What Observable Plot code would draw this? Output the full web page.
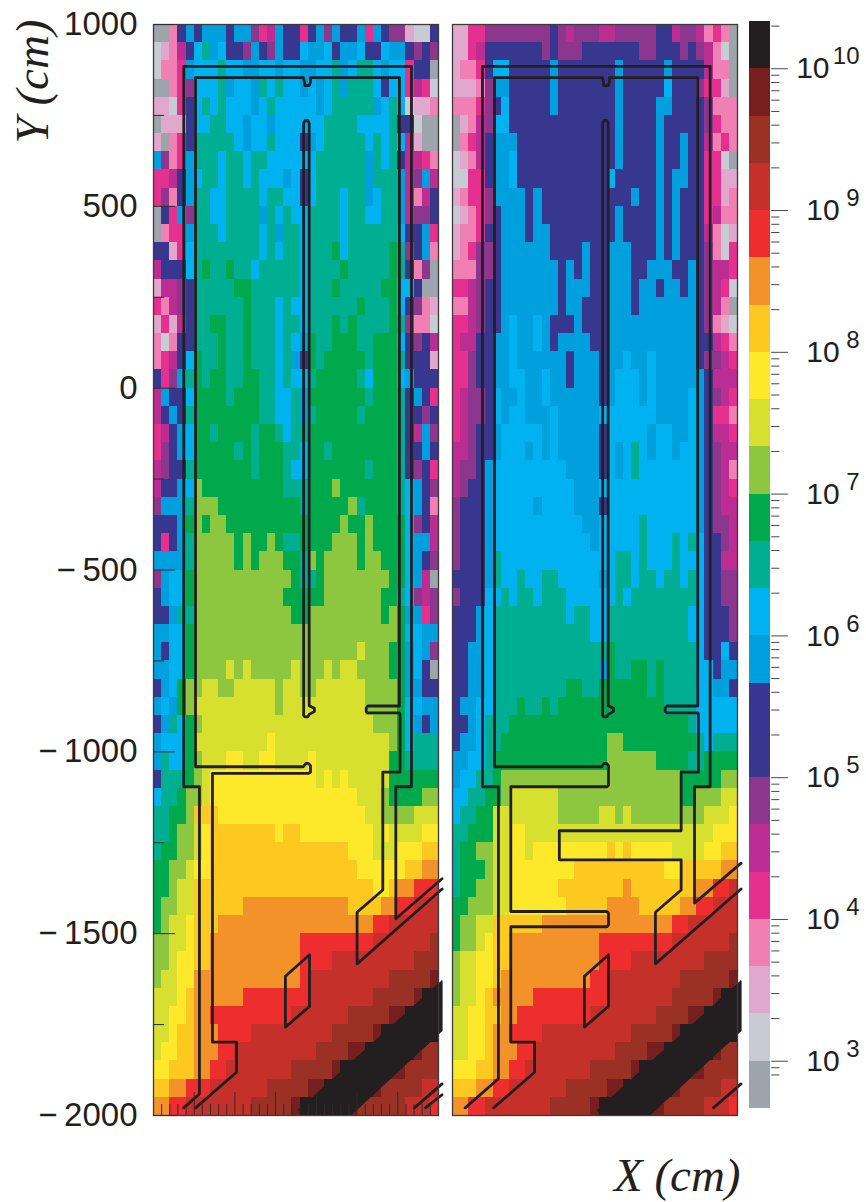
<!DOCTYPE html>
<html>
<head>
<meta charset="utf-8">
<script src="https://cdn.jsdelivr.net/npm/d3@7"></script>
<script src="https://cdn.jsdelivr.net/npm/@observablehq/plot@0.6"></script>
<style>
html,body{margin:0;padding:0;background:#fff}
#chart{position:relative;width:866px;height:1202px;overflow:hidden}
#chart svg{position:absolute;top:0;background:transparent;max-width:none;height:1202px;overflow:visible}
</style>
</head>
<body>
<div id="chart"></div>
<script>
// Colour levels, lowest to highest; each level spans a third of a decade.
const levelColors = ["#9ea4ab","#c8cbd3","#e1a8cd","#f080b4","#e5308f","#bb2d92","#8c368e","#37378f","#373792","#00a0df","#00b2ef","#00ae91","#00a94c","#8dc63f","#d7df2f","#fde82a","#fdc921","#f29229","#ee2d2e","#c6302b","#9b3125","#771f1f","#231f20"];
const levelKeys = "abcdefghijklmnopqrstuvw";
const lowestLogValue = 8 / 3;
const levelStep = 1 / 3;

// Each row: 35 bins of 25 cm; first row is the top one (1000 to 950 cm).
const leftRows = [
"aadhj hjjjh jjgef jhheh jgjhh jejhg gcbbh",
"bcdfh kljkh hgjhg jhhkj jkhjj khhkj jhghg",
"bddej kkklk kjjkk jkkjj kkljk llkjk kehha",
"aadeg kkklj kkjlk lkkjk jkljl llkhk kefeb",
"ccbeh klklk kkjkl kkkkk jklll lljkl kbccd",
"accch kkllk kjkkj kkkkk kllll kkkkl hhbaa",
"cadeh lllll kjkkl kkkhj kllll lklkl kfcaa",
"jgdej lllkl lkllk kkkkk lllll ljlkl hffed",
"eefhj kllkl lklkk kjkhk lllll ljlll jfgjf",
"egdhj llkkl lllkl lkkhk lllkl ljkll jfdfh",
"ahejg llkkl llljl klkkl lllkl lkkll jfggh",
"adeej lllkl lllkl jllkl lllkl lllll khhje",
"hhcek lllll lllkl kllkl llmkl llllm lghjd",
"fhhhk lmllm llkll lllkl lllml llllm lhdga",
"cffgh lllll mmlll lllkl llmll lllmm kkhaa",
"edfgh lllll lmlll klkkl lllll mlllm khgdc",
"cecfh llmml lmlll kllkl llmlm llllm lgddb",
"dbdhh lllml lmlll klkjm llmmm llmmm khghf",
"defhk mllml lmlll kljhm lmmmm mlmmm lhhhc",
"hegjl mlmml lmmll klkkl mmmmm lkmmm kjhhh",
"fjhhk mmmml mmmll kkljm mmmmm mlmmm lhjhe",
"fhjhl mmmmm mmmll kkljl mmmmm lmmmm lhhgh",
"efhjk mmlmm mmlmm lkllm mmmmm mmmmm lhfjg",
"eghjk mmmmm lmlmm mllkm mlmmm mmmmm lhhjh",
"fghhl mmmmm mmlmm mlkkm mmmmm mlmmm lhghe",
"fhhjk nmmmm mmmmm mlllm mmnmm mmmmm lkjhg",
"gjjjl nnnmm mmmmm mmmlm mmmmn lmmmm lkjhd",
"hhhjm nmnnm mmmmm mmmmm mmmnm mnmmm mkghf",
"hehjl nnnnn mnmmn mllmm mmnnn mnmmm mkjjf",
"jjjjl nnnnn mnmnn nmmln mnnnn mnnmm mkjhg",
"gjkkm nnnnn nnnnn nnmll mnnnn nnnnm mkjfa",
"hjkkm nnnnn nnnnn nmmmm mnnnn nnnmm lkgfg",
"hhjll nnnnn nnnnn nnmmn nnnnn nnnmn mjjeg",
"jjkkm nnnnn nnnnn nnnnn nnnnn nnnnn mkkjj",
"jhkkm nnnnn nnnnn nnnnn nnnnn onnnm mjkjg",
"jjkkm nnnno nonnn nnonn nonoo nnnnm mjkha",
"hjkmn noonn ooooo noonn ooooo onnnn mjjhh",
"jkjmn ooooo ooooo noooo ooooo onnnn mkkjj",
"hjlkm noooo ooooo ooooo ooooo oonnn mkjhj",
"jkkkm ooooo oooop ooooo ooooo oooon mklll",
"jlkkm nooop poopp oooop ooooo oooom mllll",
"hlllm noppp ppppp ppppp opopo oooom mmmmm",
"kllmn noppp ppppp ppppp ppppp ooonm mmmnn",
"llmmn qqqpp ppppp ppppp ppppp poonn nnooo",
"llmnn opqqq qqqqq pqqpp ppppp ppopo ooopp",
"lmmnn opqqq qqqqq qqqqq qqqqp ppooo pppqq",
"mmnno ppqqq qqqqq qqqqq qqqqq ppppp pqqrr",
"mmnoo qqqqq qqqqq qqqqq qqqqq qqppq rrsss",
"mnnoo qqqqq qrrrr rrrrr rrrrq qqqrr ssttt",
"mnoop qqqrr rrrrr rrrrr rrrrr rrsst ttttt",
"nnoop qqrrr rrrrr rrrss sssss ssttt ttttu",
"nnopp qqrrr rrrrr rrrss ssttt ttttt ttuuu",
"noopp rrrrr rrrrr rrrst ttttt ttttu uuuuv",
"ooopq rrrrr rssss sssst ttttt ttuuu uuvww",
"ooppq rrsss sssss ssttt ttttu uuuuv vwwww",
"oopqq rrrss ssttt ttttt ttuuu uuvww wwwww",
"oppqq rrrss ttttt ttttt uuuuv vwwww wwvuu",
"ppqqq rrsst ttttt ttuuu uuvww wwwwv vuuuu",
"qqrrs ssttt ttttu uuuuv vwwww wwvuu uuutt",
"rrsst ttttt ttuuu uuvww wwwwv uuuuu uttts"
];

const rightRows = [
"cceeg ggggg gghgf gggff ggggg hhfgg fdeda",
"ccefh hhhhh hghgg ghhhh hhhgg hhhgh gfdba",
"cddeh kkhhh hhjhh hhhhh jhhhh hjhhh hfdda",
"cccdg jjhhh hhjhh hhhhh jhhhh hkhhh geeca",
"dddeg hkhhh hhjhh hhhhh jhhhh jjhhh hgddd",
"acdfg kkhhh hhhhh hhhhh jhhhh jhhhh hgedd",
"adefh jjjhh hhhhh hhhhh jhhhh jhhjh hfded",
"bcdfh jjkhh hhhhh hhhhh jhhhh jhhjh heeba",
"bbeeh jjkhh hhhhh hhhhk hhhhh jhjjh heecc",
"cdeeg jjjjh jhhhh hhhhh hhjhh jhjhh heecd",
"bcdeg hjjjh jhhhh hhhhh jhhhh jhjhh hefdd",
"cddeh hjjjh jjhhh hhhhh jhhhh jhjhh hfdbc",
"cdegg hjjjj jjhhh hjhhj jjhhh jhjhh hgdbe",
"dddgg hjjjj jjjhj hjhhj jjhhj jjhhj hgffe",
"eefgh hjjjj jjjhj jjhhj jjhjj hjjhj hgfeb",
"ddfgh hjjjj jjjhj jhhhj jjhjj jjjjj hgfda",
"eefgh hjkjj kjhhh jhhhj jjjjj jjjjj hgdcb",
"effhh jjkjj kjhjj jjhhj jjjjj jjjjj hhfed",
"eeghh jjkjj jjjjh jjjhj jkjjk jjjjj hggfe",
"eeghh jjkkj jkjjh jjjhj kkkjk jjjjj jhfff",
"efggh kjjkj jkjjj jjjhj kkkjk jjjjk jhgfe",
"efggh kjkkj jjkjj jjjkk kkkkk jjjjk jheed",
"efghh jkkkk kjkjj jjjhk kkkkj kkjjk jhffe",
"ffghh jkkkj kjkjj jjjhk jklkj kkjkk jhgff",
"fgghj kkkkk kkkkj jjjhk jklkk kkkkk jhgfd",
"fghhj kkkkk kkkkk jjjkk kkkkk kkkkk jhgfe",
"ghhhj kkkkk jkkkk jjjhk kkkkk kkkkk jhgff",
"ghhhj kkkkk kkkkk kjjkk kkklk kkkkk jhggf",
"ghhhj kkkkk kkkkk kkjkk kkklk kklkl khhgf",
"ghhhj lkkkk kkkkk kkkkk llklk kklkk khhff",
"hhhhj lkklk kllkk kkkjk llkll kllkl khhgg",
"ghhhk klkll klllk kkkkk lklll lllll khhgg",
"hhhjk lllll llllk llkkl lllll llllk khhhg",
"hhhjk lllll lllll llkkl lllll llllk khhhg",
"hhjjk lllll lllll llllm lllll lllll khhkh",
"hhjjk lllll lllll llljm llmml mllll kkhjj",
"hhjjk lllll llllm mllmm mmmml mllll kkjjh",
"hjjkk lllml lmlmm mmmmm mmmmm mllll kkkkk",
"hhjkl llmmm mmmmm mmmmm mmmmm mmmml kkkkk",
"hjjkl lmmmm mmmmm mmmmn nmmmm mmmmm lklll",
"jjkkl mmmmm mmmmm mmmmn nnnnn mmmml lmmmm",
"jkkll mnnnn nnnnn nnnnn nnnnn nnnmm mmmnn",
"kkllm mnooo ooonn nnnnn nnnnn nnnmm nnnoo",
"kllmm ooooo ooonn nnnoo nonnn nnnnn nooop",
"llmmm ooppo ooooo ooooo ooooo ooooo ooppp",
"lmmnn ooppo ppppp ppppq pqppp ppooo oppqq",
"lmmmn ooppp ppppp qqqqq qqqqq qppqq qqqrr",
"lmmnn ooppp pppqq qqqqq qrqqq qqqqq rrsst",
"mmnnn ooppp ppppq qqqqr rrrqq qqqrr ssttt",
"mnnoo qqqqq qrrrr rrrrr rrrrr rrsst ttttt",
"mnnop qqrrr rrrrr rrrss sssss ssttt ttttu",
"noopp qqrrr rrrrr rrrss ssttt ttttt tuuuu",
"noopp qrrrr rrrrr rrsst ttttt tttuu uuuuv",
"noopq rrrrr sssss sssst ttttt ttuuu uuvww",
"ooppq qrrss sssss ssttt ttttt uuuuv vwwww",
"ooppq rrsss stttt ttttt ttuuu uuvww wwwww",
"ooppq rrrss ttttt ttttt uuuuv vwwww wwvuu",
"pppqq rrsst ttttt ttuuu uuvww wwwwv vuuuu",
"qqqrr ssttt ttttu uuuuv vwwww wwvuu uuutt",
"rrsst ttttt ttuuu uuvww wwwwv vuuuu uttts"
];

// Detector outlines, in cm.
const channel = [[461,-900],[461,728],[465,736],[474,736],[478,728],[478,-873],[494,-880],[494,-889],[478,-897],[474,-904],[465,-904],[461,-900]];
const pocket = [[405,-1617],[479,-1558],[479,-1700],[405,-1757],[405,-1617]];
const band = [[445,-1985],[886,-1629],[886,-1767],[605,-2000],[451,-2000]];
const leftOuter = [[93,-1979],[141,-1941],[141,-1096],[93,-1096],[93,885],[792,885],[792,-1096],[744,-1096],[744,-1459],[886,-1349]];
const leftInner = [[129,-1979],[255,-1881],[255,-1798],[181,-1798],[181,-1059],[476,-1059],[482,-1056],[482,-1038],[476,-1032],[468,-1032],[460,-1041],[129,-1041],[129,854],[460,854],[464,841],[464,832],[478,832],[482,841],[482,854],[755,854],[755,-874],[658,-874],[653,-880],[653,-889],[658,-893],[755,-893],[757,-897],[757,-1056],[704,-1056],[704,-1380],[625,-1441],[625,-1583],[886,-1377]];
const leftCornerA = [[801,-1979],[886,-1913]];
const leftCornerB = [[835,-1979],[886,-1943]];
const rightOuter = [[39,-1979],[141,-1899],[141,-1096],[92,-1096],[92,885],[791,885],[791,-1096],[743,-1096],[743,-1416],[886,-1306]];
const rightInner = [[126,-1979],[252,-1881],[252,-1798],[179,-1798],[179,-1481],[474,-1481],[479,-1476],[479,-1444],[474,-1439],[179,-1439],[179,-1096],[474,-1096],[479,-1092],[479,-1038],[473,-1032],[465,-1032],[458,-1041],[129,-1041],[129,854],[460,854],[464,841],[464,832],[478,832],[482,841],[482,854],[753,854],[753,-874],[658,-874],[653,-880],[653,-889],[658,-893],[753,-893],[755,-897],[755,-1056],[702,-1056],[702,-1217],[328,-1217],[328,-1297],[702,-1297],[702,-1380],[623,-1441],[623,-1583],[886,-1377]];
const rightCorner = [[801,-1979],[886,-1913]];

// Axis ticks.
const yMajorTicks = [1000,500,0,-500,-1000,-1500,-2000];
const yMinorTicks = [750,250,-250,-750,-1250,-1750];
const xMajorTicks = [125,250,375,500,625,750];
const xMinorTicks = [25,50,75,100,150,175,200,225,275,300,325,350,400,425,450,475,525,550,575,600,650,675,700,725,775,800,825,850];
const barExponents = [3,4,5,6,7,8,9,10];
const barMinorTicks = [8e2,9e2,2e3,3e3,4e3,5e3,6e3,7e3,8e3,9e3,2e4,3e4,4e4,5e4,6e4,7e4,8e4,9e4,2e5,3e5,4e5,5e5,6e5,7e5,8e5,9e5,2e6,3e6,4e6,5e6,6e6,7e6,8e6,9e6,2e7,3e7,4e7,5e7,6e7,7e7,8e7,9e7,2e8,3e8,4e8,5e8,6e8,7e8,8e8,9e8,2e9,3e9,4e9,5e9,6e9,7e9,8e9,9e9,2e10];

const ink = "#231f20";
const sans = "'Liberation Sans', Arial, sans-serif";
const serif = "'Liberation Serif', 'Times New Roman', serif";

const levelEdges = levelColors.map((_, i) => 10 ** (lowestLogValue + i * levelStep)).concat(10 ** (lowestLogValue + levelColors.length * levelStep));
const colorScale = {type: "threshold", domain: levelEdges.slice(1, -1), range: levelColors};

function toCells(rows) {
  const cells = [];
  rows.forEach((row, r) => {
    row.replace(/\s/g, "").split("").forEach((key, c) => {
      const level = levelKeys.indexOf(key);
      cells.push({x1: c * 25, x2: (c + 1) * 25, y1: 1000 - r * 50, y2: 1000 - (r + 1) * 50, value: Math.sqrt(levelEdges[level] * levelEdges[level + 1])});
    });
  });
  return cells;
}

function outline(points) {
  return Plot.line(points, {x: d => d[0], y: d => d[1], stroke: ink, strokeWidth: 2.8, strokeLinejoin: "round"});
}

function panelMarks(rows, paths) {
  return [
    Plot.rect(toCells(rows), {x1: "x1", x2: "x2", y1: "y1", y2: "y2", fill: "value", shapeRendering: "crispEdges"}),
    Plot.line(band, {x: d => d[0], y: d => d[1], stroke: ink, strokeWidth: 1, fill: ink}),
    paths.map(outline),
    Plot.frame({stroke: "#3d3a3b", strokeWidth: 1.3})
  ];
}

const yTickLabel = d => (d < 0 ? "\u2212\u2009" + Math.abs(d) : String(d));

const leftPlot = Plot.plot({
  width: 446, height: 1202, marginLeft: 153, marginRight: 8, marginTop: 24, marginBottom: 87,
  style: {fontFamily: sans, left: "0px"},
  x: {domain: [0, 875], axis: null},
  y: {domain: [-2000, 1000]},
  color: colorScale,
  marks: [
    panelMarks(leftRows, [leftOuter, leftInner, channel, pocket, leftCornerA, leftCornerB]),
    Plot.ruleY(yMajorTicks, {y: d => d, x1: () => 0, x2: () => 68, stroke: "#2f2c2d", strokeWidth: 1}),
    Plot.ruleY(yMinorTicks, {y: d => d, x1: () => 0, x2: () => 34, stroke: "#2f2c2d", strokeWidth: 1}),
    Plot.ruleX(xMajorTicks, {x: d => d, y1: () => -2000, y2: () => -1937, stroke: "#2f2c2d", strokeWidth: 1}),
    Plot.ruleX(xMinorTicks, {x: d => d, y1: () => -2000, y2: () => -1970, stroke: "#2f2c2d", strokeWidth: 1}),
    Plot.axisY({ticks: yMajorTicks, tickFormat: yTickLabel, tickSize: 0, tickPadding: 16, fontSize: 33, label: null, fill: ink}),
    Plot.text(["Y (cm)"], {text: d => d, frameAnchor: "top-left", dx: -106, dy: -5, rotate: -90, textAnchor: "end", lineAnchor: "bottom", fontSize: 47, fontFamily: serif, fontStyle: "italic", fill: ink})
  ]
});

const rightPlot = Plot.plot({
  width: 300, height: 1202, marginLeft: 6, marginRight: 9, marginTop: 24, marginBottom: 87,
  style: {fontFamily: sans, left: "446px"},
  x: {domain: [0, 875], axis: null},
  y: {domain: [-2000, 1000], axis: null},
  color: colorScale,
  marks: [
    panelMarks(rightRows, [rightOuter, rightInner, channel, pocket, rightCorner]),
    Plot.text(["X (cm)"], {text: d => d, frameAnchor: "bottom-right", dx: 3, dy: 75, textAnchor: "end", lineAnchor: "bottom", fontSize: 47, fontFamily: serif, fontStyle: "italic", fill: ink})
  ]
});

const barPlot = Plot.plot({
  width: 120, height: 1202, marginLeft: 3, marginRight: 96, marginTop: 21, marginBottom: 94,
  style: {fontFamily: sans, left: "746px"},
  x: {domain: [0, 1], axis: null},
  y: {type: "log", domain: [levelEdges[0], levelEdges[levelEdges.length - 1]], axis: null},
  color: colorScale,
  marks: [
    Plot.rect(levelColors.map((_, i) => i), {x1: () => 0, x2: () => 1, y1: i => levelEdges[i], y2: i => levelEdges[i + 1], fill: i => Math.sqrt(levelEdges[i] * levelEdges[i + 1]), shapeRendering: "crispEdges"}),
    Plot.ruleY(barExponents, {y: e => 10 ** e, x1: () => 1.06, x2: () => 1.85, stroke: "#4a4748", strokeWidth: 1}),
    Plot.ruleY(barMinorTicks, {y: d => d, x1: () => 1.06, x2: () => 1.45, stroke: "#4a4748", strokeWidth: 1}),
    Plot.text(barExponents, {text: () => "10", x: e => (e === 10 ? 3.81 : 4.29), y: e => 10 ** e, textAnchor: "end", fontSize: 30, fill: ink}),
    Plot.text(barExponents, {text: e => String(e), x: () => 5.24, y: e => 10 ** e, dy: -12, textAnchor: "end", fontSize: 24, fill: ink})
  ]
});

const chart = document.getElementById("chart");
chart.append(leftPlot, rightPlot, barPlot);
</script>
</body>
</html>
